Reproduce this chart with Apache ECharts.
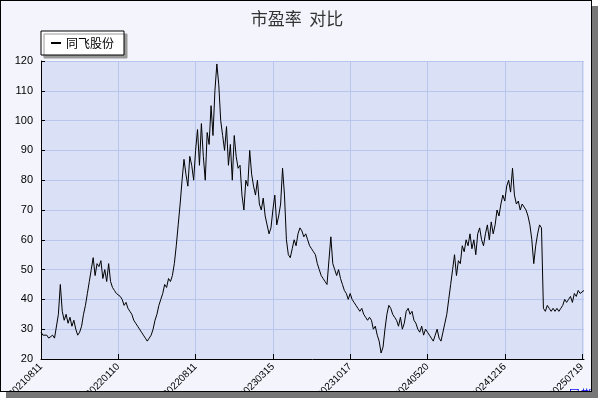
<!DOCTYPE html>
<html><head><meta charset="utf-8">
<script src="https://cdn.jsdelivr.net/npm/echarts@6/dist/echarts.min.js"></script>
<style>
body{margin:0;background:#fff;}
#wrap{position:absolute;left:0;top:0;width:592px;height:392px;border:1px solid #000;background:#f3f4fc;box-shadow:6px 6px 0 #777;box-sizing:border-box;overflow:hidden;}
#c{width:592px;height:392px;}
</style></head>
<body><div id="wrap"><div id="c"></div></div>
<script>
const tickLabels = ['20210811','20220110','20220811','20230315','20231017','20240520','20241216','20250719'];
const peValues = [
29,28,28,28,27,27,28,27,27,35, 45,36,33,35,32,34,31,33,30,28, 29,31,35,38,42,46,50,54,48,52, 51,53,47,50,46,52,46,44,43,42,
42,41,40,38,39,37,36,35,33,32, 31,30,29,28,27,26,27,28,30,33, 35,38,40,42,45,44,47,46,48,52, 58,65,72,80,87,82,78,88,85,80,
90,97,85,99,88,80,96,92,105,95, 110,119,112,100,95,90,98,85,92,80, 95,88,84,85,75,70,80,78,90,82, 78,75,80,72,70,74,68,65,62,64,
70,75,65,68,72,84,75,60,55,54, 57,60,58,62,64,63,61,62,60,58, 57,56,55,52,50,48,47,46,45,45, 61,52,50,48,50,47,45,43,42,40,
42,40,39,38,37,36,37,35,34,33, 34,33,30,31,28,26,22,24,30,35, 38,37,35,34,33,31,34,30,32,36, 37,35,36,33,32,30,29,31,28,30,
29,28,27,26,28,30,27,26,29,32, 35,40,45,50,55,48,53,52,58,56, 60,58,62,57,60,55,62,64,60,58, 62,65,60,66,62,65,70,68,72,75,
73,78,80,76,84,75,72,73,70,72, 71,70,68,65,60,52,58,62,65,64, 37,36,38,37,36,37,36,37,36,37, 38,40,39,40,41,39,42,41,43,42,
42,43
];
const step = 40;
const categories = peValues.map((v, i) => i % step === 0 ? tickLabels[i / step] : String(i));

const chart = echarts.init(document.getElementById('c'));
chart.setOption({
    animation:false,
    title:{ text:'市盈率  对比', left:'center', top:4,
        textStyle:{ fontSize:17, fontWeight:'normal', color:'#333', fontFamily:'Noto Sans CJK SC' } },
    legend:{ data:['同飞股份'], left:40, top:30, orient:'vertical',
        backgroundColor:'#fff', borderColor:'#000', borderWidth:1, padding:[6,10],
        shadowColor:'#999', shadowOffsetX:3, shadowOffsetY:3, shadowBlur:0,
        itemWidth:10, itemHeight:2, icon:'rect',
        textStyle:{ fontSize:12, color:'#000', fontFamily:'Noto Sans CJK SC' } },
    grid:{ left:40, right:9, top:60, bottom:34, outerBoundsMode:'none', containLabel:false },
    xAxis:{
        type:'category', data:categories, boundaryGap:false,
        name:'日期', nameLocation:'end', nameGap:-22,
        nameTextStyle:{ color:'#00f', fontSize:13, verticalAlign:'top', padding:[30,0,0,0] },
        axisLine:{ lineStyle:{ color:'#000' } },
        axisTick:{ interval:step-1, length:5, inside:true, lineStyle:{ color:'#000' } },
        axisLabel:{ interval:step-1, rotate:45, fontSize:10, color:'#000', margin:6 },
        splitLine:{ show:true, interval:step-1, lineStyle:{ color:'#b8c6ee' } }
    },
    yAxis:{
        type:'value', min:20, max:120, interval:10,
        axisLine:{ show:true, lineStyle:{ color:'#000' } },
        axisTick:{ show:true, inside:true, length:4 },
        axisLabel:{ fontSize:11, color:'#000' },
        splitLine:{ lineStyle:{ color:'#b8c6ee' } },
        splitArea:{ show:true, areaStyle:{ color:['#dae1f7','#dae1f7'] } }
    },
    series:[{ name:'同飞股份', type:'line', data:peValues, symbol:'none',
        lineStyle:{ color:'#000', width:1 }, itemStyle:{ color:'#000' } }]
});
</script></body></html>
